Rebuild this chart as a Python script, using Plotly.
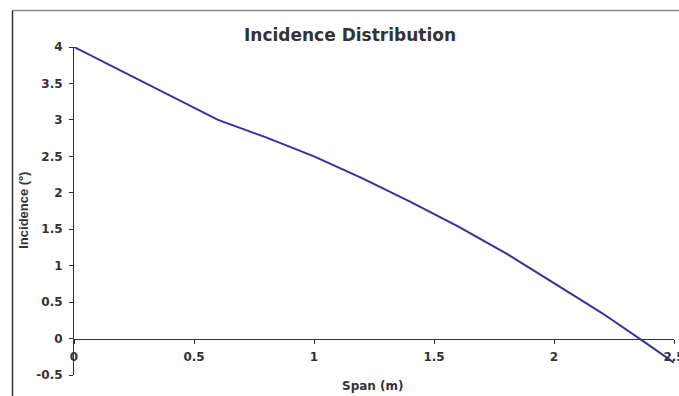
import plotly.graph_objects as go

span = [0, 0.6, 0.8, 1.0, 1.2, 1.4, 1.6, 1.8, 2.0, 2.2, 2.4, 2.5]
incidence = [4.0, 3.0, 2.76, 2.5, 2.2, 1.88, 1.54, 1.17, 0.76, 0.35, -0.1, -0.33]

x_ticks = [0, 0.5, 1, 1.5, 2, 2.5]
y_ticks = [-0.5, 0, 0.5, 1, 1.5, 2, 2.5, 3, 3.5, 4]

WIDE = "DejaVu Sans, Verdana, sans-serif"
NARROW = "Liberation Sans, Arial, sans-serif"
TXT = "#333333"

fig = go.Figure()
fig.add_trace(go.Scatter(x=span, y=incidence, mode="lines",
                         line=dict(color="#333399", width=2), showlegend=False))

fig.update_layout(
    width=679, height=396,
    margin=dict(l=74, r=5, t=47, b=20.5),
    paper_bgcolor="white", plot_bgcolor="white",
    font=dict(family=WIDE, color=TXT),
    title=dict(text="<b>Incidence Distribution</b>", x=350 / 679, xanchor="center",
               y=1 - 35 / 396, yanchor="middle",
               font=dict(size=17, family=WIDE, color=TXT)),
    xaxis=dict(range=[0, 2.5], tickvals=x_ticks, ticktext=[f"<b>{v:g}</b>" for v in x_ticks],
               ticks="outside", ticklen=4, tickcolor=TXT, showline=True, linecolor=TXT,
               linewidth=1, showgrid=False, zeroline=False, anchor="free",
               position=0.5 / 4.5, tickfont=dict(size=12, family=WIDE, color=TXT),
               ticklabeloverflow="allow", ticklabelstandoff=3, automargin=False),
    yaxis=dict(range=[-0.5, 4], tickvals=y_ticks, ticktext=[f"<b>{v:g}</b>" for v in y_ticks],
               ticks="outside", ticklen=4, tickcolor=TXT, showline=True, linecolor=TXT,
               linewidth=1, showgrid=False, zeroline=False, automargin=False,
               tickfont=dict(size=12, family=WIDE, color=TXT), ticklabelstandoff=4),
    annotations=[
        dict(text="<b>Span (m)</b>", xref="paper", yref="paper",
             x=(373 - 74) / 600, y=(375.5 - 386.5) / 328.5, xanchor="center", yanchor="middle",
             showarrow=False, font=dict(size=12, family=WIDE, color=TXT)),
        dict(text="<b>Incidence (º)</b>", xref="paper", yref="paper", textangle=-90,
             x=(24 - 74) / 600, y=(375.5 - 211) / 328.5, xanchor="center", yanchor="middle",
             showarrow=False, font=dict(size=13, family=NARROW, color=TXT)),
    ],
    shapes=[
        dict(type="line", xref="paper", yref="paper",
             x0=(12.5 - 74) / 600, x1=(690 - 74) / 600,
             y0=(375.5 - 10.5) / 328.5, y1=(375.5 - 10.5) / 328.5,
             line=dict(color="#8c8c8c", width=1.5)),
        dict(type="line", xref="paper", yref="paper",
             x0=(12.5 - 74) / 600, x1=(12.5 - 74) / 600,
             y0=(375.5 - 10.5) / 328.5, y1=(375.5 - 400) / 328.5,
             line=dict(color="#333333", width=1.5)),
    ],
)

fig.write_html("out.html", config={"displayModeBar": False})
